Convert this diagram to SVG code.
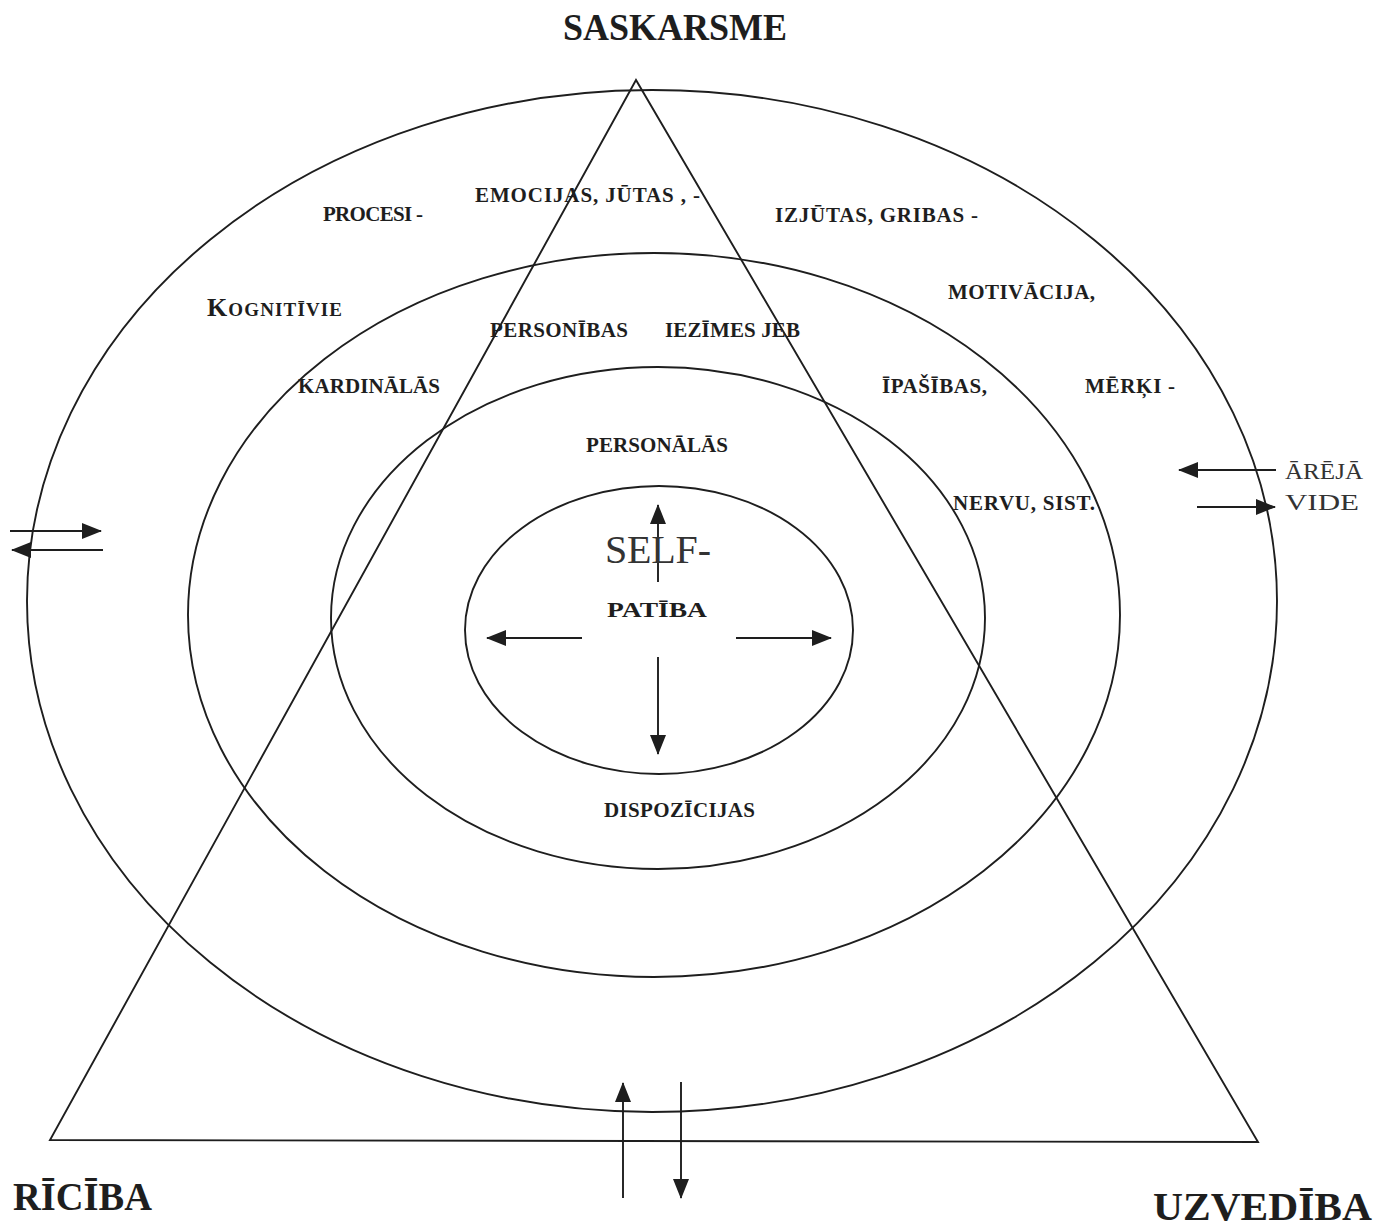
<svg xmlns="http://www.w3.org/2000/svg" width="1382" height="1227" viewBox="0 0 1382 1227">
<style>
.ln{fill:none;stroke:#1e1e1e;stroke-width:1.9}
.ar{fill:none;stroke:#1e1e1e;stroke-width:1.9;marker-end:url(#ah)}
.lb{font-family:"Liberation Serif","Times New Roman",serif;font-weight:bold;font-size:21px;fill:#1e1e1e}
.big{font-family:"Liberation Serif","Times New Roman",serif;font-weight:bold;font-size:40px;fill:#1e1e1e}
.reg{font-family:"Liberation Serif","Times New Roman",serif;font-weight:normal;fill:#333}
</style>
<defs>
<marker id="ah" viewBox="0 0 20 16" refX="19" refY="8" markerWidth="20" markerHeight="16" markerUnits="userSpaceOnUse" orient="auto">
<path d="M0,0 L20,8 L0,16 z" fill="#1e1e1e"/>
</marker>
</defs>
<rect width="1382" height="1227" fill="#ffffff"/>

<g id="shapes">
<ellipse id="outer" class="ln" cx="652" cy="601" rx="625" ry="511"/>
<ellipse id="second" class="ln" cx="654" cy="615" rx="466" ry="362"/>
<ellipse id="third" class="ln" cx="658" cy="618" rx="327" ry="251"/>
<ellipse id="inner" class="ln" cx="659" cy="630" rx="194" ry="144"/>
<polygon id="triangle" class="ln" points="636,80 50,1140 1258,1142"/>
</g>

<g id="connectors">
<line class="ar" x1="658" y1="582" x2="658" y2="505"/>
<line class="ar" x1="658" y1="657" x2="658" y2="754"/>
<line class="ar" x1="582" y1="638" x2="487" y2="638"/>
<line class="ar" x1="736" y1="638" x2="831" y2="638"/>
<line class="ar" x1="10" y1="531" x2="101" y2="531"/>
<line class="ar" x1="103" y1="550" x2="12" y2="550"/>
<line class="ar" x1="1276" y1="470" x2="1179" y2="470"/>
<line class="ar" x1="1197" y1="507" x2="1275" y2="507"/>
<line class="ar" x1="623" y1="1198" x2="623" y2="1083"/>
<line class="ar" x1="681" y1="1082" x2="681" y2="1198"/>
</g>

<g id="titles">
<text id="saskarsme" class="big" style="font-size:37px" x="563" y="40" textLength="224" lengthAdjust="spacingAndGlyphs">SASKARSME</text>
<text id="riciba" class="big" x="13" y="1210" textLength="139" lengthAdjust="spacingAndGlyphs">RĪCĪBA</text>
<text id="uzvediba" class="big" x="1153" y="1220" textLength="219" lengthAdjust="spacingAndGlyphs">UZVEDĪBA</text>
</g>

<g id="labels">
<text class="lb" x="323" y="221" textLength="100">PROCESI -</text>
<text class="lb" x="475" y="202" textLength="225">EMOCIJAS, JŪTAS , -</text>
<text class="lb" x="775" y="222" textLength="203">IZJŪTAS, GRIBAS -</text>
<text class="lb" x="207" y="316" textLength="135"><tspan style="font-size:26px">K</tspan><tspan style="font-size:19px">OGNITĪVIE</tspan></text>
<text class="lb" x="948" y="299" textLength="147">MOTIVĀCIJA,</text>
<text class="lb" x="490" y="337" textLength="138">PERSONĪBAS</text>
<text class="lb" x="665" y="337" textLength="135">IEZĪMES JEB</text>
<text class="lb" x="298" y="393" textLength="142">KARDINĀLĀS</text>
<text class="lb" x="882" y="393" textLength="105">ĪPAŠĪBAS,</text>
<text class="lb" x="1085" y="393" textLength="90">MĒRĶI -</text>
<text class="lb" x="586" y="452" textLength="142">PERSONĀLĀS</text>
<text class="lb" x="953" y="510" textLength="142">NERVU, SIST.</text>
<text class="lb" x="604" y="817" textLength="151">DISPOZĪCIJAS</text>
</g>

<g id="self">
<text class="reg" style="font-size:40px" x="605" y="563" textLength="106" fill="#222">SELF-</text>
<text class="lb" style="font-size:22px" x="607" y="617" textLength="100" lengthAdjust="spacingAndGlyphs">PATĪBA</text>
</g>

<g id="vide">
<text class="reg" style="font-size:24px" x="1285" y="479" textLength="78" lengthAdjust="spacingAndGlyphs">ĀRĒJĀ</text>
<text class="reg" style="font-size:24px" x="1285" y="510" textLength="74" lengthAdjust="spacingAndGlyphs">VIDE</text>
</g>
</svg>
